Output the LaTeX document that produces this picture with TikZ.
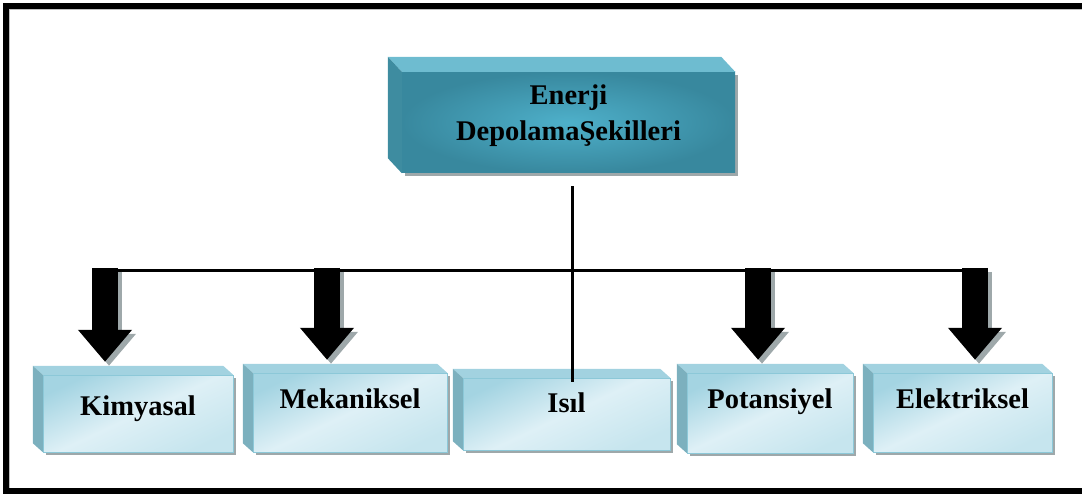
\documentclass[tikz,border=0pt]{standalone}
\usepackage{fontspec}
\setmainfont{Liberation Serif}
\usepackage{tikz}
\usetikzlibrary{arrows.meta, positioning, calc, shadows}
\definecolor{tealmid}{RGB}{78,176,202}
\definecolor{tealedge}{RGB}{56,136,158}
\definecolor{tealtop}{RGB}{110,188,208}
\definecolor{tealside}{RGB}{62,140,160}
\definecolor{skytop}{RGB}{164,212,226}
\definecolor{skymid}{RGB}{222,240,246}
\definecolor{skybot}{RGB}{198,229,238}
\definecolor{skyface}{RGB}{162,210,224}
\definecolor{skyside}{RGB}{124,176,190}
\definecolor{skyline}{RGB}{140,200,216}
\definecolor{shadowgray}{RGB}{158,168,170}

\begin{document}
\begin{tikzpicture}[x=1pt, y=-1pt,
  mainbox/.style={rectangle, inner color=tealmid, outer color=tealedge,
    minimum width=333pt, minimum height=101pt, align=center,
    font=\fontsize{28.5}{36}\selectfont\bfseries,
    drop shadow={shadow xshift=3pt, shadow yshift=-3pt, fill=shadowgray, opacity=1}},
  subbox/.style={rectangle, draw=skyline, top color=skytop, bottom color=skybot,
    middle color=skymid, shading angle=25, inner sep=0pt,
    font=\fontsize{28.5}{32}\selectfont\bfseries, text height=19pt, text depth=#1,
    drop shadow={shadow xshift=3pt, shadow yshift=-3pt, fill=shadowgray, opacity=1}},
  bar/.style={line width=3pt},
  blockarrow/.style={line width=26pt, -{Triangle[length=32pt, width=52pt]}}]
  \useasboundingbox (0,0) rectangle (1082,494);
  % outer frame
  \draw[black!25, line width=1pt] (9.5,491) -- (9.5,9.5) -- (1082,9.5);
  \draw[line width=6pt] (6,6) rectangle (1100,491);
  % top box
  \node[mainbox, text height=55pt, text depth=18pt] (top) at (568.5,122.5) {Enerji\\DepolamaŞekilleri};
  \fill[tealtop] (top.north west) -- ++(-14,-15) -- ($(top.north east)+(-14,-15)$) -- (top.north east) -- cycle;
  \fill[tealside] (top.north west) -- ++(-14,-15) -- ($(top.south west)+(-14,-15)$) -- (top.south west) -- cycle;
  % kinds
  \node[subbox=16pt, minimum width=190pt, minimum height=77pt] (kim) at (138,413.5) {Kimyasal};
  \node[subbox=28pt, minimum width=194pt, minimum height=79pt] (mek) at (350,412.5) {Mekaniksel};
  \node[subbox=23pt, minimum width=207pt, minimum height=72pt] (isil) at (566.5,414) {Isıl};
  \node[subbox=29pt, minimum width=166pt, minimum height=80pt] (pot) at (770,413) {Potansiyel};
  \node[subbox=28pt, minimum width=179pt, minimum height=79pt] (elek) at (962.5,412.5) {Elektriksel};
  \foreach \n in {kim,mek,isil,pot,elek}{
    \fill[skyface] (\n.north west) -- ++(-10,-9) -- ($(\n.north east)+(-10,-9)$) -- (\n.north east) -- cycle;
    \fill[skyside] (\n.north west) -- ++(-10,-9) -- ($(\n.south west)+(-10,-9)$) -- (\n.south west) -- cycle;
  }
  % links
  \coordinate (a1) at (105,271);
  \coordinate (a2) at (327,271);
  \coordinate (a3) at (758,271);
  \coordinate (a4) at (975,271);
  \coordinate (hub) at (572,271);
  \draw[bar] (a1) -- (a4);
  \draw[bar] ([yshift=-13pt]top.south -| hub) -- ([yshift=-4pt]isil.north -| hub);
  \foreach \a/\n in {a1/kim, a2/mek, a3/pot, a4/elek}{
    \draw[blockarrow, shadowgray] ([shift={(4,1)}]\a) -- ([shift={(4,-9)}]\a |- \n.north);
    \draw[blockarrow] ([yshift=3pt]\a) -- ([yshift=13pt]\a |- \n.north);
  }
\end{tikzpicture}
\end{document}
